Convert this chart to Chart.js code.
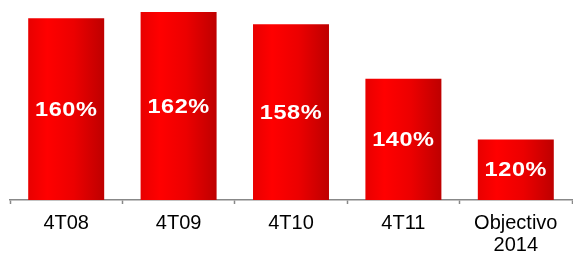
<!DOCTYPE html>
<html>
<head>
<meta charset="utf-8">
<script src="https://cdn.jsdelivr.net/npm/chart.js@4"></script>
<style>
  html, body { margin: 0; padding: 0; background: #fff; }
  #wrap { width: 573px; height: 253px; }
</style>
</head>
<body>
<div id="wrap"><canvas id="myChart"></canvas></div>
<script>
var categories = ['4T08', '4T09', '4T10', '4T11', ['Objectivo', '2014']];
var ratios = [160, 162, 158, 140, 120];
var valueLabels = ['160%', '162%', '158%', '140%', '120%'];
var axisMin = 100;
var axisMax = 166;

var BAR_FRACTION = 0.676;

// horizontal red gradient on every bar, bright on the left, darker on the right
function barGradient(c) {
  var chart = c.chart;
  if (!chart.chartArea) return 'rgb(240,0,0)';
  var x = chart.scales.x.getPixelForValue(c.dataIndex);
  var w = chart.scales.x.width / categories.length * BAR_FRACTION;
  var g = chart.ctx.createLinearGradient(x - w / 2, 0, x + w / 2, 0);
  g.addColorStop(0, 'rgb(232,0,0)');
  g.addColorStop(0.25, 'rgb(255,0,0)');
  g.addColorStop(0.6, 'rgb(236,0,0)');
  g.addColorStop(1, 'rgb(190,0,0)');
  return g;
}

// white value labels in the middle of each bar, slightly widened
var barLabels = {
  id: 'barLabels',
  afterDatasetsDraw: function(chart) {
    var c2 = chart.ctx;
    var meta = chart.getDatasetMeta(0);
    c2.save();
    c2.fillStyle = '#ffffff';
    c2.font = 'bold 21px "Liberation Sans", Arial, sans-serif';
    c2.letterSpacing = '0.5px';
    c2.textAlign = 'center';
    c2.textBaseline = 'middle';
    meta.data.forEach(function(bar, i) {
      c2.save();
      c2.translate(bar.x, (bar.y + bar.base) / 2 + 1);
      c2.scale(1.12, 1);
      c2.fillText(valueLabels[i], 0, 0);
      c2.restore();
    });
    c2.restore();
  }
};

var chart = new Chart(document.getElementById('myChart'), {
  type: 'bar',
  data: {
    labels: categories,
    datasets: [{
      data: ratios,
      base: axisMin,
      backgroundColor: barGradient,
      borderWidth: 0,
      categoryPercentage: 1,
      barPercentage: BAR_FRACTION
    }]
  },
  options: {
    responsive: true,
    maintainAspectRatio: false,
    animation: false,
    layout: { padding: { left: 10, right: 1, top: 0, bottom: -11 } },
    plugins: {
      legend: { display: false },
      tooltip: { enabled: false }
    },
    scales: {
      y: { display: false, min: axisMin, max: axisMax },
      x: {
        offset: true,
        border: { display: true, color: '#888', width: 1.5 },
        grid: { offset: true, drawOnChartArea: false, tickLength: 4, tickWidth: 1.5, tickColor: '#888' },
        ticks: {
          color: '#000', padding: 8, maxRotation: 0, autoSkip: false,
          font: { family: '"Liberation Sans", Arial, sans-serif', size: 20, lineHeight: 1.1 }
        }
      }
    }
  },
  plugins: [barLabels]
});
</script>
</body>
</html>
